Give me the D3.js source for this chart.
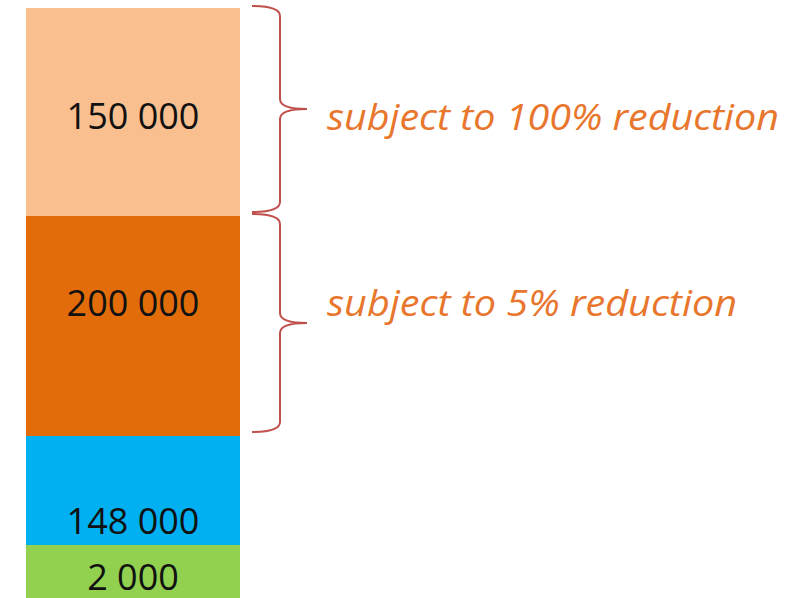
<!DOCTYPE html>
<html>
<head>
<meta charset="utf-8">
<script src="https://cdn.jsdelivr.net/npm/d3@7"></script>
<style>
  body { margin: 0; background: #fff; }
</style>
</head>
<body>
<svg width="810" height="598"></svg>
<script>
// segments, bottom to top
const segments = ["base", "blue", "dark", "light"];
const values = [2000, 148000, 200000, 150000];
const colors = ["#92D050", "#00B0F0", "#E36C0A", "#F9BF8F"];
const labels = ["2 000", "148 000", "200 000", "150 000"];
const labelShift = [-4, 30, -24, 3];

const braceGroups = [3, 2];
const braceTexts = ["subject to 100% reduction", "subject to 5% reduction"];
const braceTextShift = [4, -24];
const braceTextWidth = [452, 410];

const svg = d3.select("svg");

const tops = d3.cumsum(values);
const bottoms = tops.map((t, i) => t - values[i]);

// diagram is not drawn to scale: piecewise scale over the segment boundaries
const y = d3.scaleLinear()
	.domain([0, ...tops])
	.range([616, 545, 436, 216, 8]);

const x = d3.scaleBand()
	.domain(["bar"])
	.range([26, 240])
	.padding(0);

const g = svg.append("g");

g.selectAll("rect")
	.data(values)
	.join("rect")
		.attr("x", x("bar"))
		.attr("width", x.bandwidth())
		.attr("y", (d, i) => y(tops[i]))
		.attr("height", (d, i) => y(bottoms[i]) - y(tops[i]))
		.attr("fill", (d, i) => colors[i]);

g.selectAll("text.val")
	.data(values)
	.join("text")
		.attr("class", "val")
		.attr("x", x("bar") + x.bandwidth() / 2)
		.attr("y", (d, i) => (y(tops[i]) + y(bottoms[i])) / 2 + labelShift[i])
		.attr("text-anchor", "middle")
		.attr("dominant-baseline", "central")
		.attr("font-family", "'Open Sans', sans-serif")
		.attr("font-size", 36)
		.attr("fill", "#111")
		.text((d, i) => labels[i]);

const braceX0 = 252;
const braceXm = 280;
const braceTip = 307;

function bracePath(y0, y1) {
	const ym = (y0 + y1) / 2;
	const r = 10;
	return `M${braceX0},${y0}` +
		`Q${braceXm},${y0} ${braceXm},${y0 + r}` +
		`L${braceXm},${ym - r}` +
		`Q${braceXm},${ym} ${braceTip},${ym}` +
		`Q${braceXm},${ym} ${braceXm},${ym + r}` +
		`L${braceXm},${y1 - r}` +
		`Q${braceXm},${y1} ${braceX0},${y1}`;
}

const braces = svg.append("g");

braces.selectAll("path")
	.data(braceGroups)
	.join("path")
		.attr("d", i => bracePath(y(tops[i]) - 2, y(bottoms[i]) - 4))
		.attr("fill", "none")
		.attr("stroke", "#C0504D")
		.attr("stroke-width", 2);

braces.selectAll("text")
	.data(braceGroups)
	.join("text")
		.attr("x", 327)
		.attr("y", (i, k) => (y(tops[i]) + y(bottoms[i])) / 2 + braceTextShift[k])
		.attr("dominant-baseline", "central")
		.attr("font-family", "'Open Sans', sans-serif")
		.attr("font-style", "italic")
		.attr("font-size", 36)
		.attr("textLength", (i, k) => braceTextWidth[k])
		.attr("lengthAdjust", "spacingAndGlyphs")
		.attr("fill", "#E8762D")
		.text((i, k) => braceTexts[k]);
</script>
</body>
</html>
